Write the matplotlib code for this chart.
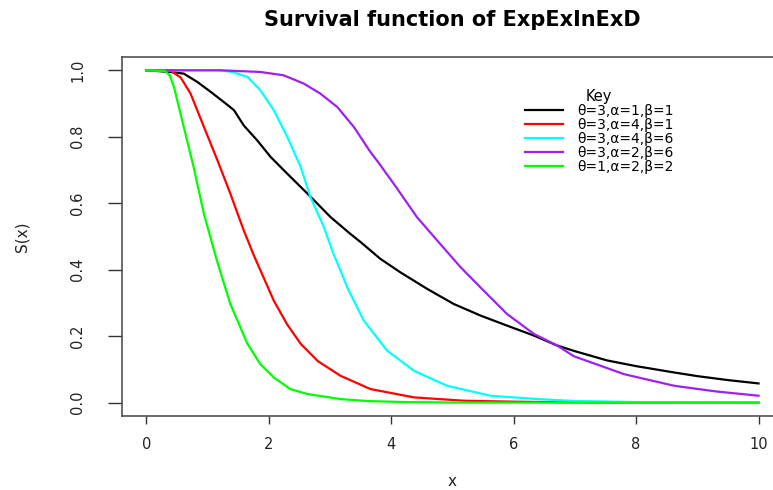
import matplotlib
matplotlib.use('Agg')
import matplotlib.pyplot as plt

# values
black_x = [0, 0.39, 0.61, 0.83, 1.05, 1.26, 1.43, 1.59, 1.81, 2.03, 2.3, 2.63, 3.01, 3.33, 3.5,
           3.82, 4.15, 4.59, 5.02, 5.46, 5.89, 6.33, 6.71, 7.0, 7.53, 8.0, 8.62, 9.0, 9.5, 10]
black_s = [1.0, 0.995, 0.99, 0.965, 0.935, 0.905, 0.88, 0.834, 0.789, 0.739, 0.689, 0.629, 0.558,
           0.508, 0.483, 0.433, 0.392, 0.342, 0.297, 0.262, 0.232, 0.202, 0.172, 0.155, 0.127,
           0.11, 0.091, 0.08, 0.068, 0.058]

red_x = [0, 0.4, 0.56, 0.72, 0.94, 1.16, 1.37, 1.59, 1.75, 2.08, 2.3, 2.52, 2.8, 3.17, 3.66, 4.37,
         5.18, 6, 7, 8, 10]
red_s = [1, 0.998, 0.978, 0.93, 0.829, 0.729, 0.629, 0.518, 0.445, 0.307, 0.235, 0.177, 0.125,
         0.081, 0.041, 0.016, 0.006, 0.003, 0.001, 0.0005, 0]

cyan_x = [0, 1.2, 1.4, 1.65, 1.86, 2.08, 2.3, 2.52, 2.68, 2.9, 3.06, 3.17, 3.28, 3.55, 3.93, 4.37,
          4.91, 5.62, 6.38, 7, 8, 9, 10]
cyan_s = [1, 1, 0.995, 0.98, 0.94, 0.88, 0.80, 0.709, 0.618, 0.528, 0.445, 0.398, 0.347, 0.247,
          0.157, 0.096, 0.051, 0.021, 0.011, 0.005, 0.002, 0.001, 0]

purple_x = [0, 1.21, 1.86, 2.24, 2.57, 2.84, 3.12, 3.39, 3.66, 3.8, 4.1, 4.42, 4.75, 5.13, 5.51,
            5.89, 6.33, 6.71, 6.98, 7.8, 8.62, 9.3, 10]
purple_s = [1, 1, 0.995, 0.985, 0.96, 0.93, 0.889, 0.829, 0.754, 0.72, 0.643, 0.558, 0.488, 0.408,
            0.337, 0.267, 0.207, 0.172, 0.14, 0.086, 0.051, 0.034, 0.021]

green_x = [0, 0.3, 0.38, 0.45, 0.61, 0.77, 0.94, 1.15, 1.37, 1.65, 1.86, 2.08, 2.35, 2.63, 3.17,
           3.6, 4.2, 5, 10]
green_s = [1, 0.998, 0.985, 0.949, 0.829, 0.709, 0.567, 0.428, 0.297, 0.177, 0.116, 0.076, 0.041,
           0.026, 0.011, 0.005, 0.002, 0.0005, 0]

labels = ['θ=3,α=1,β=1', 'θ=3,α=4,β=1', 'θ=3,α=4,β=6', 'θ=3,α=2,β=6', 'θ=1,α=2,β=2']
colors = ['black', '#ff0000', '#00ffff', '#a020f0', '#00ff00']
x_ticks = [0, 2, 4, 6, 8, 10]
y_ticks = [0.0, 0.2, 0.4, 0.6, 0.8, 1.0]

plt.rcParams['font.family'] = ['DejaVu Sans']

W, H = 773, 490
fig = plt.figure(figsize=(W / 100, H / 100), dpi=100)
# plot box runs past the right edge, as in the reference
ax = fig.add_axes([122 / W, 1 - 416 / H, 661 / W, 359 / H])

curves = [(black_x, black_s), (red_x, red_s), (cyan_x, cyan_s), (purple_x, purple_s), (green_x, green_s)]
for (xs, ss), c, lab in zip(curves, colors, labels):
    ax.plot(xs, ss, color=c, lw=1.6, label=lab)

ax.set_xlim(-0.4, 10.4)
ax.set_ylim(-0.04, 1.04)
ax.set_xticks(x_ticks)
ax.set_xticklabels([str(t) for t in x_ticks])
ax.set_yticks(y_ticks)
ax.set_yticklabels(['%.1f' % t for t in y_ticks])

for sp in ax.spines.values():
    sp.set_color('#444444')
    sp.set_linewidth(1.1)
ax.spines['right'].set_visible(False)

ax.tick_params(axis='x', length=5.8, width=1.0, color='#333333', pad=9,
               labelsize=10.5, labelcolor='#222222')
ax.tick_params(axis='y', length=10, width=1.0, color='#333333', pad=22,
               labelsize=10.5, labelcolor='#222222')
plt.setp(ax.get_yticklabels(), rotation=90, va='center', ha='center')

ax.set_xlabel('x', fontsize=11, color='#222222', va='center')
ax.xaxis.set_label_coords(0.499, (416 - 481) / 359)
ax.set_ylabel('S(x)', fontsize=11, color='#222222', va='center')
ax.yaxis.set_label_coords((22 - 122) / 661, 0.5)

fig.text(452 / W, 1 - 20 / H, 'Survival function of ExpExInExD', fontsize=15,
         fontweight='bold', ha='center', va='center')

leg = ax.legend(loc='upper left', bbox_to_anchor=(525 / W, 1 - 89 / H),
                bbox_transform=fig.transFigure, frameon=False, title='Key',
                fontsize=10, title_fontsize=10.5, handlelength=2.7, handletextpad=1.05,
                labelspacing=0.0, borderpad=0, borderaxespad=0)
for line in leg.get_lines():
    line.set_linewidth(1.6)

fig.savefig('out.png', dpi=100)
